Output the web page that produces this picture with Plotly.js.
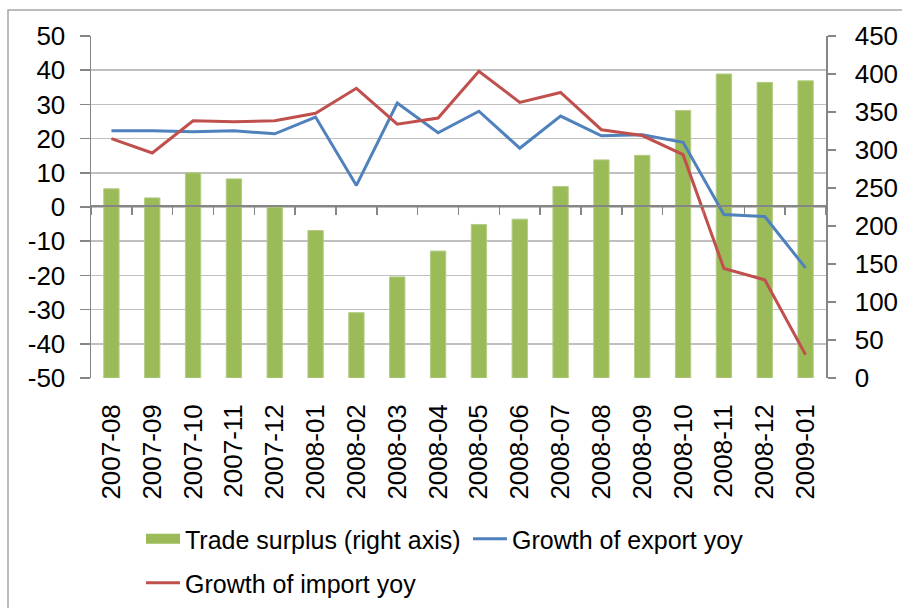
<!DOCTYPE html>
<html>
<head>
<meta charset="utf-8">
<script src="https://cdn.plot.ly/plotly-3.0.1.min.js"></script>
<style>html,body{margin:0;padding:0;background:#fff;}#chart{width:902px;height:608px;}</style>
</head>
<body>
<div id="chart"></div>
<script>
var months = ["2007-08","2007-09","2007-10","2007-11","2007-12","2008-01","2008-02","2008-03","2008-04","2008-05","2008-06","2008-07","2008-08","2008-09","2008-10","2008-11","2008-12","2009-01"];
var tradeSurplus = [249, 237, 270, 262, 225, 194, 86, 133, 167, 202, 209, 252, 287, 293, 352, 400, 389, 391];
var exportGrowth = [22.3, 22.3, 22.0, 22.3, 21.4, 26.3, 6.3, 30.4, 21.7, 28.0, 17.2, 26.6, 20.8, 21.1, 18.9, -2.2, -2.8, -17.8];
var importGrowth = [20.0, 15.8, 25.2, 24.9, 25.2, 27.4, 34.7, 24.2, 26.0, 39.7, 30.6, 33.5, 22.6, 20.9, 15.3, -18.0, -21.3, -43.2];
var leftTicks = [-50,-40,-30,-20,-10,0,10,20,30,40,50];
var rightTicks = [0,50,100,150,200,250,300,350,400,450];
var nullY = months.map(function(){ return null; });

var FONT = "Liberation Sans, Arial, sans-serif";
var AXC = "#868686";
var GRIDC = "#bfbfbf";

var traces = [
  {type:"bar", x:months, y:tradeSurplus, xaxis:"x", yaxis:"y",
   marker:{color:"#9BBB59", line:{color:"#b3cc85", width:1}}, showlegend:false, hoverinfo:"x+y"},
  {type:"scatter", mode:"lines", name:"Trade surplus (right axis)", x:months, y:nullY,
   xaxis:"x2", yaxis:"y", line:{color:"#9BBB59", width:14}, legend:"legend", hoverinfo:"skip"},
  {type:"scatter", mode:"lines", name:"Growth of export yoy", x:months, y:exportGrowth,
   xaxis:"x", yaxis:"y2", line:{color:"#4F81BD", width:3}, legend:"legend"},
  {type:"scatter", mode:"lines", name:"Growth of import yoy", x:months, y:importGrowth,
   xaxis:"x", yaxis:"y2", line:{color:"#C0504D", width:3}, legend:"legend2"}
];

var layout = {
  width:902, height:608,
  margin:{l:91, r:76, t:36, b:230},
  paper_bgcolor:"#fff", plot_bgcolor:"rgba(0,0,0,0)",
  font:{family:FONT, color:"#000", size:26},
  bargap:0.625,
  xaxis:{type:"category", categoryorder:"array", categoryarray:months, range:[-0.5,17.5],
         showline:false, ticks:"", showgrid:false, zeroline:false, tickangle:-90,
         tickfont:{size:26, family:FONT}, ticklabelstandoff:20, automargin:false},
  xaxis2:{type:"category", categoryorder:"array", categoryarray:months, range:[-0.5,17.5],
          overlaying:"x", anchor:"free", position:(378-205.7)/342,
          showline:true, linecolor:AXC, linewidth:2, layer:"above traces",
          ticks:"outside", tickson:"boundaries", ticklen:8, tickcolor:AXC, tickwidth:1.5,
          showticklabels:false, showgrid:false, zeroline:false},
  yaxis:{side:"right", range:[0,450], tickmode:"array", tickvals:rightTicks,
         ticktext:rightTicks.map(String),
         showgrid:false, zeroline:false, showline:true, linecolor:AXC, linewidth:1.5,
         ticks:"outside", ticklen:8, tickcolor:AXC, tickwidth:1.5,
         tickfont:{size:26, family:FONT}, ticklabelstandoff:14, automargin:false},
  yaxis2:{side:"left", overlaying:"y", range:[-50,50], tickmode:"array", tickvals:leftTicks,
          ticktext:leftTicks.map(String),
          showgrid:true, gridcolor:GRIDC, gridwidth:1.5, zeroline:false,
          showline:true, linecolor:AXC, linewidth:1.5,
          ticks:"outside", ticklen:10, tickcolor:AXC, tickwidth:1.5,
          tickfont:{size:26, family:FONT}, ticklabelstandoff:9, automargin:false},
  legend:{orientation:"h", xref:"container", yref:"container",
          x:141/902, xanchor:"left", y:(608-539)/608, yanchor:"middle",
          font:{size:25, family:FONT}, itemwidth:34, entrywidth:278, bgcolor:"rgba(0,0,0,0)",
          borderwidth:0, traceorder:"normal"},
  legend2:{orientation:"h", xref:"container", yref:"container",
           x:141/902, xanchor:"left", y:(608-583)/608, yanchor:"middle",
           font:{size:25, family:FONT}, itemwidth:34, bgcolor:"rgba(0,0,0,0)", borderwidth:0},
  shapes:[{type:"rect", xref:"paper", yref:"paper",
           x0:(8-91)/735, x1:(930-91)/735, y0:(378-640)/342, y1:(378-10)/342,
           line:{color:"#a6a6a6", width:1.5}, fillcolor:"rgba(0,0,0,0)", layer:"below"}]
};

Plotly.newPlot("chart", traces, layout, {displayModeBar:false, staticPlot:true});
</script>
</body>
</html>
